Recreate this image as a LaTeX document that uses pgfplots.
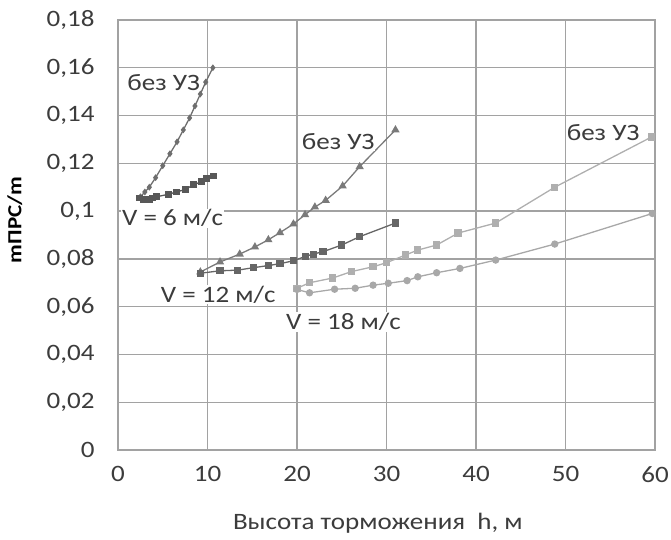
\documentclass[border=0pt]{standalone}
\usepackage{fontspec}
\setmainfont{Carlito}[FakeStretch=1.15]
\usepackage{pgfplots}
\pgfplotsset{compat=1.18}

\definecolor{gridc}{HTML}{A2A2A2}
\definecolor{txt}{HTML}{3C3C3C}
\definecolor{sa}{HTML}{6E6E6E}
\definecolor{sb}{HTML}{585858}
\definecolor{sc}{HTML}{7A7A7A}
\definecolor{sd}{HTML}{666666}
\definecolor{se}{HTML}{AFAFAF}
\definecolor{sf}{HTML}{A8A8A8}

\newcommand{\tfont}{\fontsize{23.5bp}{27bp}\selectfont}
\newcommand{\yfont}{\fontsize{20bp}{24bp}\selectfont\bfseries}

\begin{document}
\begin{tikzpicture}[x=1bp,y=1bp]
\useasboundingbox (0,0) rectangle (671,540);
\begin{axis}[
  at={(118bp,90bp)}, anchor=south west,
  scale only axis, width=537bp, height=430bp,
  xmin=0, xmax=60, ymin=0, ymax=0.18,
  xtick={0,10,...,60},
  xticklabels={0,10,20,30,40,50,60},
  ytick={0,0.02,0.04,0.06,0.08,0.1,0.12,0.14,0.16,0.18},
  yticklabels={0,{0,02},{0,04},{0,06},{0,08},{0,1},{0,12},{0,14},{0,16},{0,18}},
  major tick length=0pt,
  grid=major,
  grid style={gridc, line width=1.3bp},
  axis line style={gridc, line width=1.3bp},
  tick label style={font=\tfont, text=txt},
  yticklabel style={xshift=-20bp},
  xticklabel style={yshift=-13bp},
  xlabel={Высота торможения\ \ h, м},
  ylabel={mПРС/m},
  xlabel style={font=\tfont, text=txt, at={(axis description cs:0.484,-0.17)}, anchor=center},
  ylabel style={font=\yfont, text=black, at={(axis description cs:-0.192,0.535)}, rotate=0, anchor=center},
  clip=false,
  every axis plot/.append style={line width=1.3bp},
]
% V = 6 m/s, without ultrasound
\addplot[sa, mark=diamond*, mark size=2.4bp] coordinates {
 (2.5,0.106) (3.0,0.108) (3.5,0.110) (4.2,0.114) (5.0,0.119) (5.8,0.124) (6.6,0.129)
 (7.3,0.134) (8.0,0.139) (8.6,0.144) (9.2,0.149) (9.8,0.154) (10.6,0.160)};
% V = 6 m/s
\addplot[sb, mark=square*, mark size=2.8bp] coordinates {
 (2.4,0.1055) (2.8,0.105) (3.1,0.105) (3.5,0.105) (3.9,0.1055) (4.3,0.106)
 (5.6,0.107) (6.5,0.108) (7.5,0.109) (8.4,0.111) (9.35,0.1123) (9.9,0.1138) (10.65,0.1147)};
% V = 12 m/s, without ultrasound
\addplot[sc, mark=triangle*, mark size=3.5bp] coordinates {
 (9.2,0.0745) (11.4,0.0787) (13.6,0.082) (15.3,0.085) (16.8,0.088) (18.1,0.091)
 (19.6,0.0946) (20.9,0.0985) (22.0,0.1017) (23.2,0.1045) (25.1,0.1105) (27.0,0.1186) (31.0,0.134)};
% V = 12 m/s
\addplot[sd, mark=square*, mark size=2.9bp] coordinates {
 (9.2,0.074) (11.4,0.075) (13.4,0.0753) (15.1,0.0763) (16.8,0.0772) (18.1,0.078)
 (19.6,0.0792) (20.9,0.081) (21.8,0.082) (22.9,0.083) (25.0,0.0858) (27.0,0.0893) (31.0,0.095)};
% V = 18 m/s, without ultrasound
\addplot[se, mark=square*, mark size=3bp] coordinates {
 (20.0,0.0677) (21.4,0.070) (24.0,0.072) (26.1,0.0747) (28.5,0.0767) (30.0,0.0784)
 (32.1,0.0816) (33.5,0.0837) (35.6,0.0858) (38.0,0.0908) (42.2,0.095) (48.8,0.110) (59.6,0.131)};
% V = 18 m/s
\addplot[sf, mark=*, mark size=3bp] coordinates {
 (20.0,0.0672) (21.4,0.0658) (24.2,0.0673) (26.5,0.0677) (28.5,0.069) (30.2,0.0698)
 (32.3,0.0709) (33.5,0.0725) (35.6,0.0742) (38.2,0.076) (42.2,0.0795) (48.8,0.0862) (59.7,0.099)};

\node[font=\tfont, text=txt, fill=white, inner sep=1bp] at (axis cs:5.1,0.1536) {без УЗ};
\node[font=\tfont, text=txt, fill=white, inner sep=1bp] at (axis cs:6.1,0.097) {V = 6 м/с};
\node[font=\tfont, text=txt, fill=white, inner sep=1bp] at (axis cs:24.6,0.129) {без УЗ};
\node[font=\tfont, text=txt, fill=white, inner sep=1bp] at (axis cs:11.2,0.065) {V = 12 м/с};
\node[font=\tfont, text=txt, fill=white, inner sep=1bp] at (axis cs:54.2,0.133) {без УЗ};
\node[font=\tfont, text=txt, fill=white, inner sep=1bp] at (axis cs:25.2,0.0536) {V = 18 м/с};
\end{axis}
\end{tikzpicture}
\end{document}
